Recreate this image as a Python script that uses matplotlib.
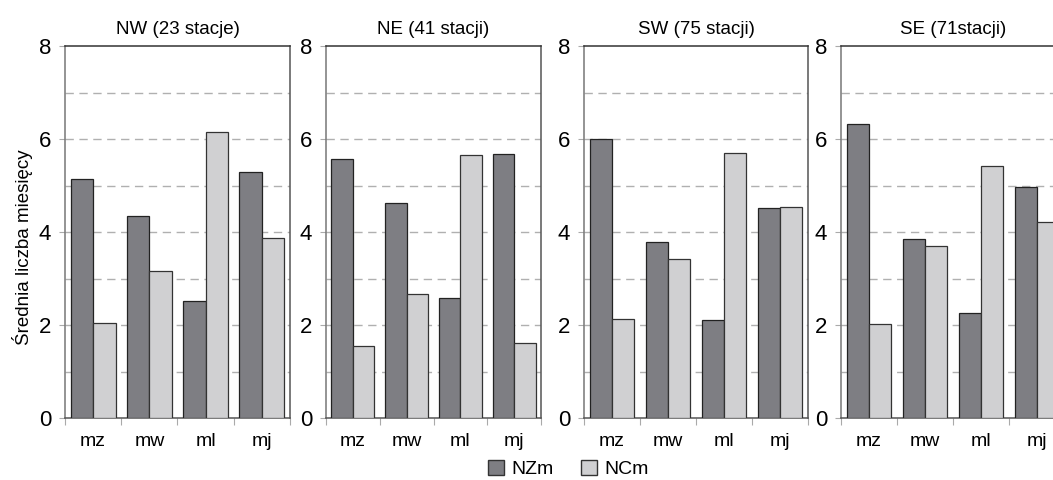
import numpy as np
import matplotlib
matplotlib.use("Agg")
import matplotlib.pyplot as plt
from matplotlib.patches import Patch

plt.rcParams["font.family"] = ["Liberation Sans Narrow", "Liberation Sans", "DejaVu Sans"]

# 区域与季节分组
regions = ["NW (23 stacje)", "NE (41 stacji)", "SW (75 stacji)", "SE (71stacji)"]
seasons = ["mz", "mw", "ml", "mj"]

# 每个区域的 NZm / NCm 平均月数
nzm = [
    [5.13, 4.35, 2.52, 5.30],
    [5.56, 4.62, 2.59, 5.67],
    [6.00, 3.78, 2.10, 4.52],
    [6.32, 3.86, 2.25, 4.96],
]
ncm = [
    [2.05, 3.17, 6.14, 3.88],
    [1.55, 2.66, 5.65, 1.62],
    [2.12, 3.43, 5.70, 4.54],
    [2.03, 3.69, 5.42, 4.21],
]

DARK = "#7e7e83"
LIGHT = "#d0d0d2"

W, H = 1053, 480
fig = plt.figure(figsize=(W / 100, H / 100), dpi=100)

# 像素坐标下的子图左边界和宽度
lefts = [65, 326, 584, 841]
widths = [225, 215, 224, 224]
top_px, bottom_px = 46, 418

x = np.arange(len(seasons))
bw = 0.4
for i, region in enumerate(regions):
    ax = fig.add_axes([lefts[i] / W, (H - bottom_px) / H,
                       widths[i] / W, (bottom_px - top_px) / H])
    ax.bar(x - bw / 2, nzm[i], bw, color=DARK, edgecolor="#222222", linewidth=0.9, zorder=3)
    ax.bar(x + bw / 2, ncm[i], bw, color=LIGHT, edgecolor="#333333", linewidth=0.9, zorder=3)

    ax.set_xlim(-0.5, len(seasons) - 0.5)
    ax.set_ylim(0, 8)
    ax.set_yticks([0, 2, 4, 6, 8])
    for v in range(1, 8):
        ax.axhline(v, color="#b0b0b0", linestyle=(0, (6, 4)), linewidth=1, zorder=1)

    # x 轴刻度放在类别边界上，标签放在中心
    ax.set_xticks(np.arange(len(seasons) + 1) - 0.5)
    ax.set_xticklabels([])
    ax.set_xticks(x, minor=True)
    ax.set_xticklabels(seasons, minor=True, fontsize=14)
    ax.tick_params(axis="x", which="minor", length=0, pad=11)
    ax.tick_params(axis="x", which="major", length=5, color="#aaaaaa")
    ax.tick_params(axis="y", length=4, color="#aaaaaa", labelsize=16, pad=6)

    ax.spines["top"].set_color("#333333")
    ax.spines["right"].set_color("#555555")
    ax.spines["left"].set_color("#777777")
    ax.spines["bottom"].set_color("#555555")
    for s in ax.spines.values():
        s.set_linewidth(1.1)

    ax.set_title(region, fontsize=13.5, pad=9)
    if i == 0:
        ax.set_ylabel("Średnia liczba miesięcy", fontsize=13.5)
        ax.yaxis.set_label_coords(-0.14, 0.46)

handles = [Patch(facecolor=DARK, edgecolor="#333333", label="NZm"),
           Patch(facecolor=LIGHT, edgecolor="#333333", label="NCm")]
fig.legend(handles=handles, loc="center", bbox_to_anchor=(568 / W, 1 - 469 / H),
           ncol=2, frameon=False, fontsize=14, handlelength=0.85, handleheight=0.85,
           handletextpad=0.35, columnspacing=1.4)

fig.savefig("out.png", dpi=100)
